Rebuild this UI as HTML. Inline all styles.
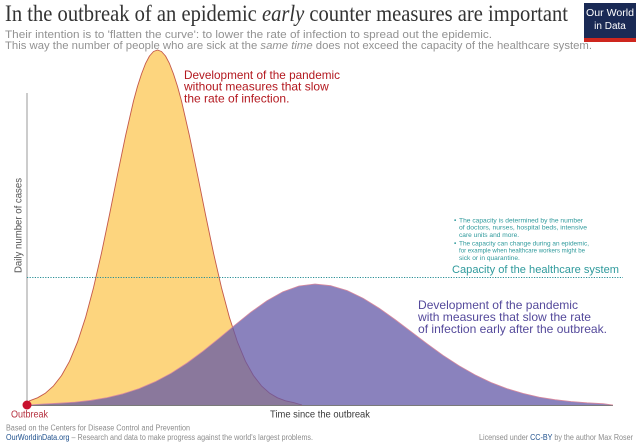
<!DOCTYPE html>
<html>
<head>
<meta charset="utf-8">
<style>
  html,body{margin:0;padding:0;background:#fff;}
  svg{display:block;}
  text{font-family:"Liberation Sans",sans-serif;}
</style>
</head>
<body>
<svg width="640" height="448" viewBox="0 0 640 448" xmlns="http://www.w3.org/2000/svg">
  <rect x="0" y="0" width="640" height="448" fill="#fff"/>

  <!-- Title -->
  <text x="5" y="21" font-family="Liberation Serif, serif" style="font-family:'Liberation Serif',serif" font-size="23" fill="#333333" textLength="563" lengthAdjust="spacingAndGlyphs">In the outbreak of an epidemic <tspan font-style="italic">early</tspan> counter measures are important</text>
  <text x="5" y="38" font-size="11" fill="#929292" textLength="487" lengthAdjust="spacingAndGlyphs">Their intention is to 'flatten the curve': to lower the rate of infection to spread out the epidemic.</text>
  <text x="5" y="49" font-size="11" fill="#929292" textLength="587" lengthAdjust="spacingAndGlyphs">This way the number of people who are sick at the <tspan font-style="italic">same time</tspan> does not exceed the capacity of the healthcare system.</text>

  <!-- Logo -->
  <rect x="584" y="3" width="52" height="39" fill="#1a2a55"/>
  <rect x="584" y="38" width="52" height="4" fill="#ce261e"/>
  <text x="610" y="16" font-size="10" fill="#fff" text-anchor="middle" textLength="48" lengthAdjust="spacingAndGlyphs">Our World</text>
  <text x="610" y="29" font-size="10" fill="#fff" text-anchor="middle">in Data</text>

  <!-- Axes -->
  <line x1="27" y1="93" x2="27" y2="405" stroke="#9a9a9a" stroke-width="1"/>
  <line x1="27" y1="405.5" x2="613" y2="405.5" stroke="#7a7a7a" stroke-width="1"/>

  <!-- Yellow curve (no measures) -->
  <path d="M28,405 L29.5,400.8 L37.5,397.8 L45.5,393.1 L53.5,385.9 L61.5,375.6 L69.5,361.3 L77.5,342.1 L85.5,317.7 L93.5,287.7 L101.5,253 L109.5,214.6 L117.5,174.7 L125.5,136 L133.5,101 L137.5,86.4 L141.5,74 L145.5,63.6 L149.5,56 L153.5,51.5 L157.5,50 L161.5,51.5 L165.5,56 L169.5,63.6 L173.5,74 L177.5,86.4 L181.5,101 L189.5,136 L197.5,174.7 L205.5,214.6 L213.5,253 L221.5,287.7 L229.5,317.7 L237.5,342.1 L245.5,361.3 L253.5,375.6 L261.5,385.9 L269.5,393.1 L277.5,397.8 L285.5,400.8 L293.5,402.6 L302,405 Z" fill="#fdd57e" stroke="none"/>
  <path d="M28,405 L29.5,400.8 L37.5,397.8 L45.5,393.1 L53.5,385.9 L61.5,375.6 L69.5,361.3 L77.5,342.1 L85.5,317.7 L93.5,287.7 L101.5,253 L109.5,214.6 L117.5,174.7 L125.5,136 L133.5,101 L137.5,86.4 L141.5,74 L145.5,63.6 L149.5,56 L153.5,51.5 L157.5,50 L161.5,51.5 L165.5,56 L169.5,63.6 L173.5,74 L177.5,86.4 L181.5,101 L189.5,136 L197.5,174.7 L205.5,214.6 L213.5,253 L221.5,287.7 L229.5,317.7 L237.5,342.1 L245.5,361.3 L253.5,375.6 L261.5,385.9 L269.5,393.1 L277.5,397.8 L285.5,400.8 L293.5,402.6 L302,405" fill="none" stroke="#c4584a" stroke-width="0.9" stroke-linejoin="round"/>

  <!-- Purple curve (with measures) -->
  <path d="M28,405 L43,404 L59,403.2 L75,402.1 L91,400.3 L107,397.6 L123,393.8 L139,388.6 L155,381.8 L171,373.3 L187,363 L203,351.2 L219,338.3 L235,325 L251,312.1 L267,300.7 L283,291.7 L299,286 L315,284 L331,285.7 L347,290.5 L363,298.2 L379,308.1 L395,319.5 L411,331.6 L427,343.7 L443,355.3 L459,365.7 L475,374.8 L491,382.5 L507,388.6 L523,393.4 L539,397.1 L555,399.7 L571,401.5 L587,402.8 L603,403.7 L613,405 Z" fill="rgba(99,88,167,0.75)" stroke="none"/>
  <path d="M28,405 L43,404 L59,403.2 L75,402.1 L91,400.3 L107,397.6 L123,393.8 L139,388.6 L155,381.8 L171,373.3 L187,363 L203,351.2 L219,338.3 L235,325 L251,312.1 L267,300.7 L283,291.7 L299,286 L315,284 L331,285.7 L347,290.5 L363,298.2 L379,308.1 L395,319.5 L411,331.6 L427,343.7 L443,355.3 L459,365.7 L475,374.8 L491,382.5 L507,388.6 L523,393.4 L539,397.1 L555,399.7 L571,401.5 L587,402.8 L603,403.7 L613,405" fill="none" stroke="#d98a9e" stroke-width="0.8" stroke-linejoin="round"/>

  <!-- Capacity line -->
  <line x1="27" y1="277.5" x2="623" y2="277.5" stroke="#2a8f96" stroke-width="1.1" stroke-dasharray="1.2,1.4"/>
  <text x="619" y="273" font-size="11" fill="#2f9a9c" text-anchor="end" textLength="167" lengthAdjust="spacingAndGlyphs">Capacity of the healthcare system</text>

  <!-- Bullets -->
  <g font-size="6.6" fill="#2f9a9c">
    <text x="454" y="222.5">•</text>
    <text x="459" y="222.5" textLength="124" lengthAdjust="spacingAndGlyphs">The capacity is determined by the number</text>
    <text x="459" y="229.7" textLength="128" lengthAdjust="spacingAndGlyphs">of doctors, nurses, hospital beds, intensive</text>
    <text x="459" y="236.9">care units and more.</text>
    <text x="454" y="245.5">•</text>
    <text x="459" y="245.5" textLength="130" lengthAdjust="spacingAndGlyphs">The capacity can change during an epidemic,</text>
    <text x="459" y="252.7" textLength="126" lengthAdjust="spacingAndGlyphs">for example when healthcare workers might be</text>
    <text x="459" y="259.9">sick or in quarantine.</text>
  </g>

  <!-- Red annotation -->
  <g font-size="12" fill="#b3181f">
    <text x="184" y="78.8" textLength="156" lengthAdjust="spacingAndGlyphs">Development of the pandemic</text>
    <text x="184" y="90.6">without measures that slow</text>
    <text x="184" y="102.4">the rate of infection.</text>
  </g>

  <!-- Purple annotation -->
  <g font-size="12" fill="#54499b">
    <text x="418" y="309" textLength="160" lengthAdjust="spacingAndGlyphs">Development of the pandemic</text>
    <text x="418" y="321" textLength="173" lengthAdjust="spacingAndGlyphs">with measures that slow the rate</text>
    <text x="418" y="333" textLength="189" lengthAdjust="spacingAndGlyphs">of infection early after the outbreak.</text>
  </g>

  <!-- Y label -->
  <text transform="translate(21.5,225.5) rotate(-90)" font-size="9.7" fill="#555" text-anchor="middle" textLength="95" lengthAdjust="spacingAndGlyphs">Daily number of cases</text>

  <!-- Outbreak dot and labels -->
  <circle cx="27" cy="405" r="4.5" fill="#c8102e"/>
  <text x="11" y="417.5" font-size="10" fill="#b5303e" textLength="37" lengthAdjust="spacingAndGlyphs">Outbreak</text>
  <text x="270" y="417.5" font-size="10" fill="#3a3a3a" textLength="100" lengthAdjust="spacingAndGlyphs">Time since the outbreak</text>

  <!-- Footer -->
  <text x="6" y="430.5" font-size="7.8" fill="#8c8c8c" textLength="184" lengthAdjust="spacingAndGlyphs">Based on the Centers for Disease Control and Prevention</text>
  <text x="6" y="440" font-size="7.8" fill="#8c8c8c" textLength="307" lengthAdjust="spacingAndGlyphs"><tspan fill="#1d4f8c">OurWorldinData.org</tspan> – Research and data to make progress against the world's largest problems.</text>
  <text x="633" y="440" font-size="7.8" fill="#8c8c8c" text-anchor="end" textLength="154" lengthAdjust="spacingAndGlyphs">Licensed under <tspan fill="#1d4f8c">CC-BY</tspan> by the author Max Roser</text>
</svg>
</body>
</html>
